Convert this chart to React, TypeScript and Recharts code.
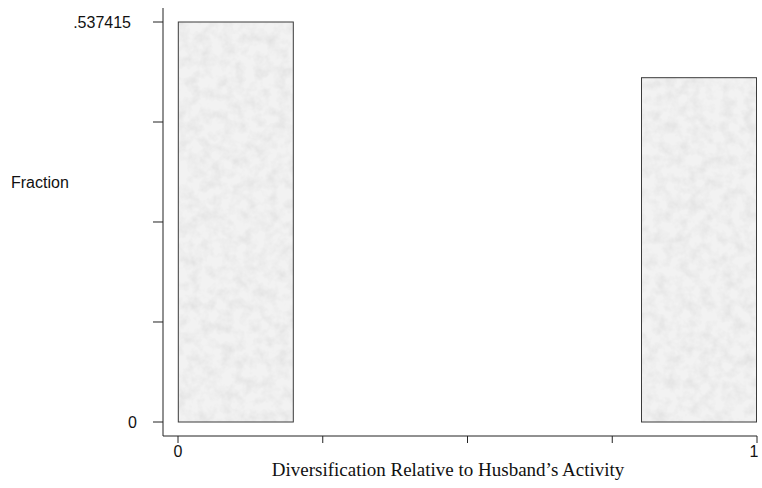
import React from 'react';
import { BarChart, Bar, XAxis, YAxis } from 'recharts';

// Histogram bins (bin centre on the 0–1 scale) and their fractions
const binCenters = [0.1, 0.9];
const fractions = [0.537415, 0.462585];
const yTicks = [0, 0.134354, 0.268708, 0.403061, 0.537415];
const yTickLabels: Record<string, string> = { '0': '0', '0.537415': '.537415' };
const xTicks = [0, 0.25, 0.5, 0.75, 1];
const xTickLabels: Record<string, string> = { '0': '0', '1': '1' };

const data = binCenters.map((x, i) => ({ x, fraction: fractions[i] }));

const SANS = '"Liberation Sans", Arial, Helvetica, sans-serif';
const SERIF = '"Liberation Serif", "Times New Roman", serif';

const TexturedBar = (props: any) => {
  const { x, y, width, height, index } = props;
  const id = `noise-${index}`;
  return (
    <g>
      <defs>
        <filter id={id} filterUnits="objectBoundingBox" x="0" y="0" width="1" height="1">
          <feTurbulence type="fractalNoise" baseFrequency="0.09" numOctaves="3" seed={5 + index} result="t" />
          <feColorMatrix
            in="t"
            type="matrix"
            values="0 0 0 0 0.7  0 0 0 0 0.7  0 0 0 0 0.7  1.2 0 0 0 -0.45"
            result="n"
          />
          <feGaussianBlur in="n" stdDeviation="0.6" result="b" />
          <feComposite in="b" in2="SourceGraphic" operator="atop" />
        </filter>
      </defs>
      <rect x={x} y={y} width={width} height={height} fill="#f2f2f2" filter={`url(#${id})`} />
      <rect x={x} y={y} width={width} height={height} fill="none" stroke="#3a3a3a" strokeWidth={1} />
    </g>
  );
};

const YTick = (props: any) => {
  const { x, y, payload } = props;
  const key = String(payload.value);
  const label = yTickLabels[key];
  if (!label) return null;
  const shift = key === '0' ? 0 : -6;
  return (
    <text x={x + shift} y={y} dy="0.36em" textAnchor="end" fontFamily={SANS} fontSize={16} fill="#111">
      {label}
    </text>
  );
};

const XTick = (props: any) => {
  const { x, y, payload } = props;
  const key = String(payload.value);
  const label = xTickLabels[key];
  if (!label) return null;
  const shift = key === '1' ? -3 : 0;
  return (
    <text x={x + shift} y={y} dy="0.68em" textAnchor="middle" fontFamily={SANS} fontSize={16} fill="#111">
      {label}
    </text>
  );
};

export default function App() {
  return (
    <div style={{ position: 'absolute', left: 0, top: 0, background: '#fff' }}>
      <BarChart width={762} height={488} data={data} margin={{ top: 8, right: 5, bottom: 0, left: 0 }}>
        <XAxis
          dataKey="x"
          type="number"
          domain={[0, 1]}
          ticks={xTicks}
          padding={{ left: 15, right: 0 }}
          height={52}
          tickSize={7}
          tickMargin={3}
          axisLine={{ stroke: '#222' }}
          tickLine={{ stroke: '#222' }}
          tick={<XTick />}
          interval={0}
          label={(p: any) => (
            <text x={448} y={476} textAnchor="middle" fontFamily={SERIF} fontSize={19} fill="#111">
              Diversification Relative to Husband’s Activity
            </text>
          )}
        />
        <YAxis
          type="number"
          domain={[0, 0.537415]}
          ticks={yTicks}
          width={163}
          padding={{ top: 14, bottom: 14 }}
          tickSize={10}
          tickMargin={16}
          axisLine={{ stroke: '#222' }}
          tickLine={{ stroke: '#222' }}
          tick={<YTick />}
          interval={0}
          label={(p: any) => (
            <text x={11} y={188} textAnchor="start" fontFamily={SANS} fontSize={16} fill="#111">
              Fraction
            </text>
          )}
        />
        <Bar dataKey="fraction" barSize={115} isAnimationActive={false} shape={<TexturedBar />} />
      </BarChart>
    </div>
  );
}
